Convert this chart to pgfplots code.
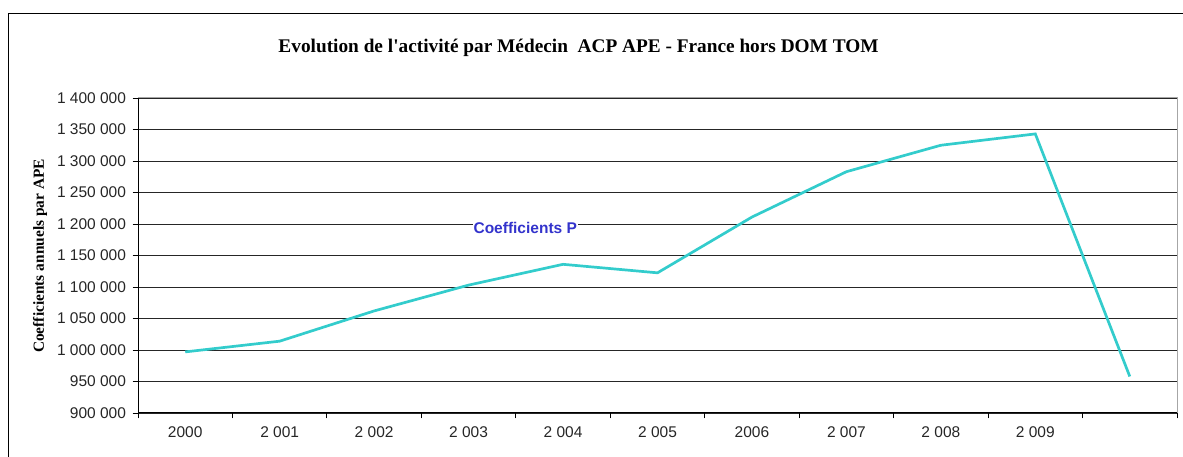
\documentclass[border=0pt]{standalone}
\usepackage{fontspec}
\setmainfont{Liberation Serif}
\setsansfont{Liberation Sans}
\usepackage{pgfplots}
\pgfplotsset{compat=1.18}
\definecolor{turq}{RGB}{51,204,204}
\definecolor{cpblue}{RGB}{51,51,204}
\begin{document}
\begin{tikzpicture}[x=1pt,y=1pt]
\path[use as bounding box] (0,0) rectangle (1183,457);
\draw[black, line width=1pt] (8.5,-2) -- (8.5,443.5) -- (1185,443.5);
\node[font=\fontsize{19.3}{22}\selectfont\bfseries] at (578.5,409) {Evolution de l\textquotesingle activité par Médecin\ \ ACP APE - France hors DOM TOM};
\node[rotate=90, font=\fontsize{15.4}{17}\selectfont\bfseries] at (40,201) {Coefficients annuels par APE};
\begin{axis}[
  at={(138pt,44pt)}, anchor=south west,
  scale only axis, width=1039pt, height=315pt,
  xmin=-0.5, xmax=10.5, ymin=900000, ymax=1400000,
  scaled y ticks=false,
  xtick={-0.5,0.5,1.5,2.5,3.5,4.5,5.5,6.5,7.5,8.5,9.5,10.5},
  x tick label as interval,
  xticklabels={2000,2 001,2 002,2 003,2 004,2 005,2006,2 007,2 008,2 009,{}},
  ytick={900000,950000,1000000,1050000,1100000,1150000,1200000,1250000,1300000,1350000,1400000},
  yticklabels={900 000,950 000,1 000 000,1 050 000,1 100 000,1 150 000,1 200 000,1 250 000,1 300 000,1 350 000,1 400 000},
  xtick pos=bottom, ytick pos=left,
  tick align=outside, major tick length=5.5pt,
  tick style={black, line width=0.9pt},
  ymajorgrids, grid style={black!85, line width=0.9pt},
  axis line style={draw=gray!70, line width=1pt},
  ticklabel style={font=\fontsize{15.5}{17}\selectfont\sffamily, text=black!85},
  yticklabel style={xshift=-3pt},
  xticklabel style={yshift=-5pt},
  clip=false,
]
\draw[black, line width=1pt] (rel axis cs:0,0) -- (rel axis cs:0,1);
\draw[black, line width=1pt] (rel axis cs:0,0) -- (rel axis cs:1,0);
\addplot[turq, line width=2.7pt, mark=none] coordinates {
(0,997000) (1,1014000) (2,1062000) (3,1103000) (4,1136000) (5,1122500)
(6,1211000) (7,1283000) (8,1325000) (9,1343000) (10,958000)
};
\node[fill=white, inner sep=1pt, text=cpblue, font=\fontsize{15.5}{17}\selectfont\sffamily\bfseries] at (axis cs:3.6,1193700) {Coefficients P};
\end{axis}
\end{tikzpicture}
\end{document}
